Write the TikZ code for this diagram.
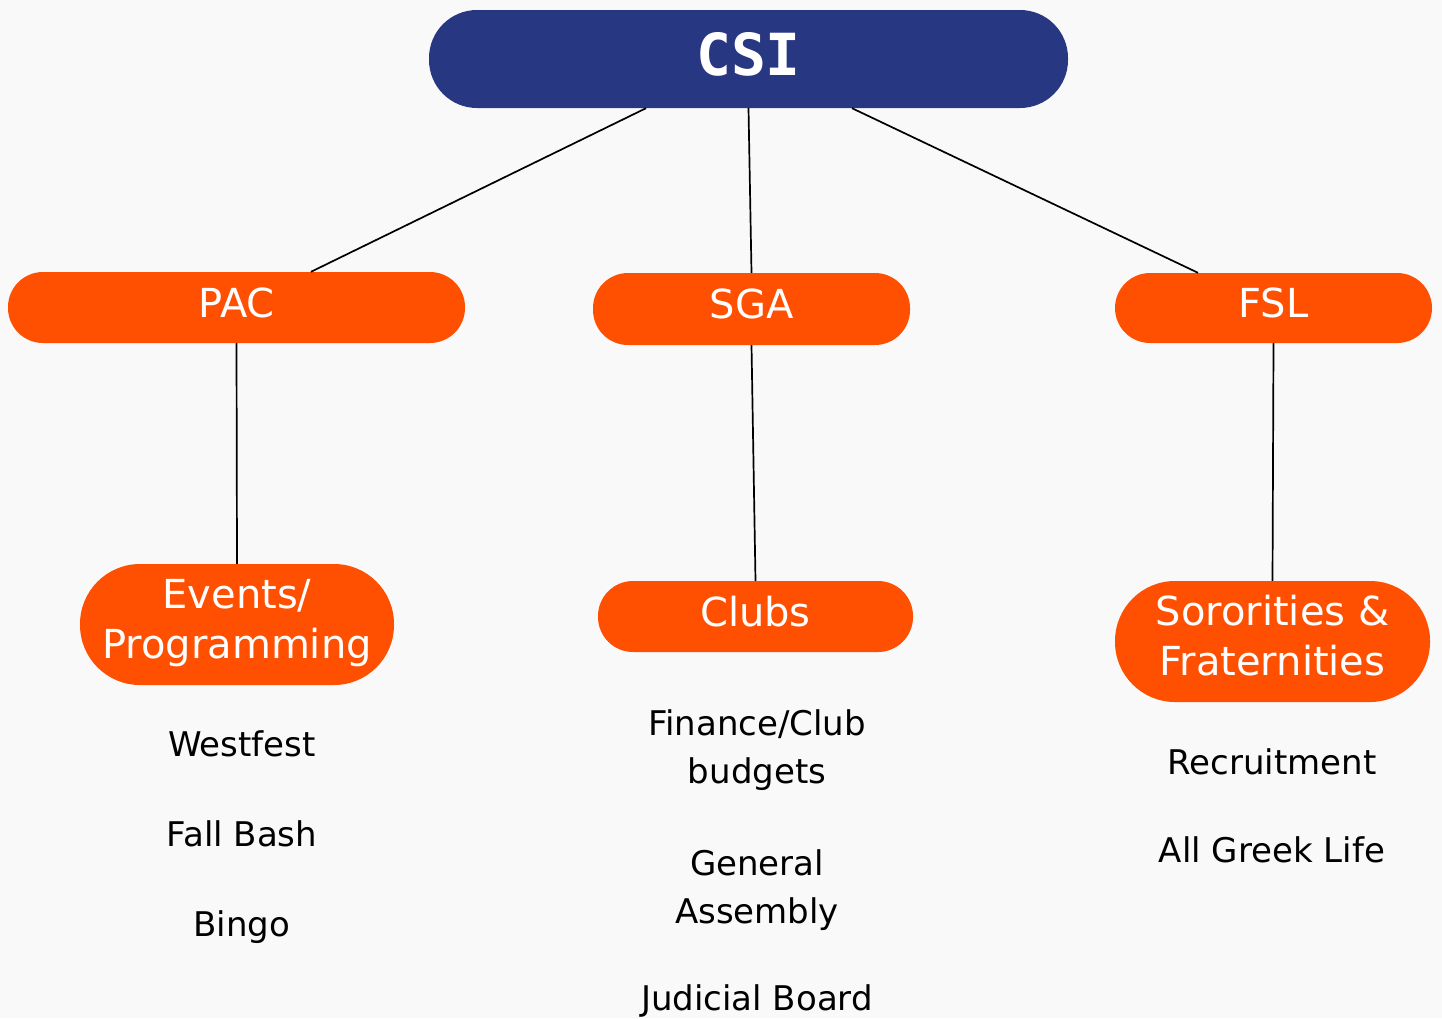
\documentclass[tikz,border=0pt]{standalone}
\usepackage{fontspec}
\setmainfont{DejaVu Sans}
\newfontfamily\csifont{DejaVu Sans Mono}
\usetikzlibrary{calc}
\definecolor{bgcol}{HTML}{F9F9F9}
\definecolor{csiblue}{HTML}{283782}
\definecolor{orng}{HTML}{FF4F00}
\begin{document}
\begin{tikzpicture}[x=1pt,y=-1pt,
  topbox/.style={fill=csiblue, rounded corners=48pt, minimum width=639pt, minimum height=98pt, inner sep=0pt, text=white, text height=42pt, text depth=10pt, font=\csifont\bfseries\fontsize{58}{64}\selectfont},
  midbox/.style={fill=orng, rounded corners=35pt, minimum width=317pt, minimum height=71pt, inner sep=0pt, text=white, text height=29pt, text depth=10pt, font=\fontsize{40}{50}\selectfont},
  tallbox/.style={fill=orng, rounded corners=60pt, minimum width=315pt, minimum height=121pt, inner sep=0pt, text=white, align=center, text depth=12pt, font=\fontsize{40}{50}\selectfont},
  item/.style={font=\fontsize{34}{48}\selectfont, text=black, anchor=base, align=center, inner sep=0pt},
  link/.style={draw=black, line width=1.7pt}]
\fill[bgcol] (0,0) rectangle (1442,1018);
\useasboundingbox (0,0) rectangle (1442,1018);

\node[topbox] (csi) at (748.5,59) {CSI};
\node[midbox, minimum width=457pt] (pac) at (236.5,307.5) {PAC};
\node[midbox, minimum height=72pt] (sga) at (751.5,309) {SGA};
\node[midbox, minimum height=70pt] (fsl) at (1273.5,308) {FSL};
\node[tallbox, minimum width=314pt] (events) at (237,624.5) {Events/\\Programming};
\node[midbox, minimum width=315pt] (clubs) at (755.5,616.5) {Clubs};
\node[tallbox] (soror) at (1272.5,641.5) {Sororities \&\\Fraternities};

\draw[link] ([xshift=-102.5pt]csi.south) -- ([xshift=74.5pt]pac.north);
\draw[link] (csi.south) -- (sga.north);
\draw[link] ([xshift=103.5pt]csi.south) -- ([xshift=-75.5pt]fsl.north);
\draw[link] (pac.south) -- (events.north);
\draw[link] (sga.south) -- (clubs.north);
\draw[link] (fsl.south) -- (soror.north);

\node[item] (westfest) at (242,756) {Westfest};
\node[item] (fallbash) at (242,846) {Fall Bash};
\node[item] (bingo) at (242,936) {Bingo};
\node[item] (finance) at (757,783) {Finance/Club\\budgets};
\node[item] (general) at (757,923) {General\\Assembly};
\node[item] (judicial) at (757,1010) {Judicial Board};
\node[item] (recruit) at (1272,774) {Recruitment};
\node[item] (greek) at (1272,862) {All Greek Life};
\end{tikzpicture}
\end{document}
